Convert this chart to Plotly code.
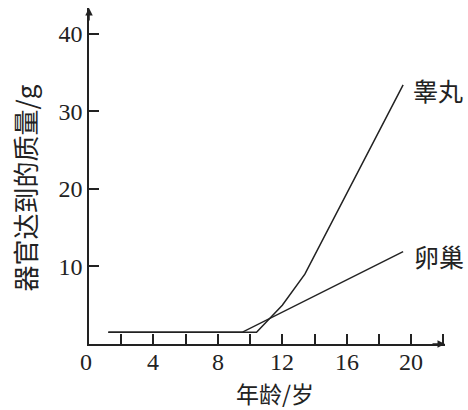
import plotly.graph_objects as go

# Data
testis_age = [1.2, 10.4, 12.0, 13.4, 19.5]
testis_mass = [1.5, 1.5, 5.0, 9.0, 33.4]
ovary_age = [1.2, 9.5, 19.5]
ovary_mass = [1.5, 1.5, 11.9]
x_tick_vals = [0, 4, 8, 12, 16, 20]
y_tick_vals = [10, 20, 30, 40]
x_title = "年龄/岁"
y_title = "器官达到的质量/g"
testis_label = "睾丸"
ovary_label = "卵巢"

XMAX = 22.1
YMAX = 43.3
ink = "#222222"
cjk = "Noto Sans CJK SC"
serif = "Liberation Serif"

L, R, T, B = 89, 23, 8, 66
W, H = 468, 410
PH = H - T - B

fig = go.Figure()
fig.add_trace(go.Scatter(x=testis_age, y=testis_mass, mode="lines",
                         line=dict(color=ink, width=1.5), showlegend=False,
                         hoverinfo="skip"))
fig.add_trace(go.Scatter(x=ovary_age, y=ovary_mass, mode="lines",
                         line=dict(color=ink, width=1.5), showlegend=False,
                         hoverinfo="skip"))

fig.update_layout(
    width=W, height=H,
    margin=dict(l=L, r=R, t=T, b=B),
    paper_bgcolor="white", plot_bgcolor="white",
    font=dict(family=serif, size=24, color=ink),
    xaxis=dict(range=[0, XMAX], tickvals=x_tick_vals, showticklabels=False,
               ticks="inside", ticklen=10, tickwidth=1.5, tickcolor=ink,
               showline=True, linecolor=ink, linewidth=1.5,
               showgrid=False, zeroline=False,
               minor=dict(dtick=2, tick0=0, ticks="inside", ticklen=10,
                          tickwidth=1.5, tickcolor=ink, showgrid=False)),
    yaxis=dict(range=[0, YMAX], tickvals=y_tick_vals,
               ticks="inside", ticklen=10, tickwidth=1.5, tickcolor=ink,
               showline=True, linecolor=ink, linewidth=1.5,
               showgrid=False, zeroline=False,
               tickfont=dict(family=serif, size=24, color=ink)),
)

# x tick labels placed just under the axis
for v in x_tick_vals:
    fig.add_annotation(x=v, y=0, xref="x", yref="paper", yshift=-17.5,
                       xshift=-3 if v == 0 else 0,
                       xanchor="center", yanchor="middle", showarrow=False,
                       text=str(v), font=dict(family=serif, size=24, color=ink))

# arrowheads at the ends of the axes
fig.add_annotation(x=XMAX, y=0, xref="x", yref="y", ax=-14, ay=0,
                   showarrow=True, arrowhead=2, arrowsize=1, arrowwidth=1.5,
                   arrowcolor=ink, text="")
fig.add_annotation(x=0, y=YMAX, xref="x", yref="y", ax=0, ay=14,
                   showarrow=True, arrowhead=2, arrowsize=1, arrowwidth=1.5,
                   arrowcolor=ink, text="")

# curve labels
fig.add_annotation(x=testis_age[-1], y=testis_mass[-1], xref="x", yref="y",
                   text=testis_label, showarrow=False, xanchor="left",
                   yanchor="middle", xshift=8, yshift=-5,
                   font=dict(family=cjk, size=25, color=ink))
fig.add_annotation(x=ovary_age[-1], y=ovary_mass[-1], xref="x", yref="y",
                   text=ovary_label, showarrow=False, xanchor="left",
                   yanchor="middle", xshift=9, yshift=-4,
                   font=dict(family=cjk, size=25, color=ink))

# axis titles
fig.add_annotation(xref="x", yref="paper",
                   x=(275 - 89.5) / 16.1, y=-(392 - 343.5) / PH,
                   xanchor="center", yanchor="middle",
                   text=x_title, showarrow=False,
                   font=dict(family=cjk, size=23, color=ink))
fig.add_annotation(xref="paper", yref="paper",
                   x=-(89 - 24) / (W - L - R), y=(343.5 - 188) / PH,
                   xanchor="center", yanchor="middle",
                   text=y_title, textangle=-90, showarrow=False,
                   font=dict(family=cjk, size=26, color=ink))

fig.write_html("out.html", config={"displayModeBar": False},
               post_script="document.body.style.margin='0';document.body.style.overflow='hidden';")
